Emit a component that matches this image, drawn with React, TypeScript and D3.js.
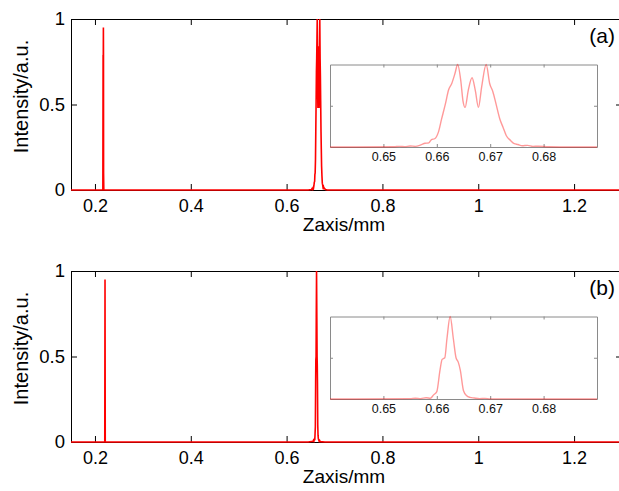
import { useRef, useEffect } from "react";
import * as d3 from "d3";

const zRange = [0.15, 1.3];
const xTicks = [0.2, 0.4, 0.6, 0.8, 1, 1.2];
const xTickLabels = ["0.2", "0.4", "0.6", "0.8", "1", "1.2"];
const yTicks = [0, 0.5, 1];
const yTickLabels = ["0", "0.5", "1"];
const insetRange = [0.64, 0.69];
const insetTicks = [0.65, 0.66, 0.67, 0.68];
const insetTickLabels = ["0.65", "0.66", "0.67", "0.68"];

// panel (a)
const spikeAZ = [0.2165, 0.217, 0.2172, 0.2174, 0.2176, 0.2178, 0.218, 0.2185];
const spikeAI = [0, 0.79, 0.1, 0.79, 0.95, 0.79, 0.1, 0];
const peakAZ = [0.645, 0.652, 0.653, 0.654, 0.655, 0.656, 0.657, 0.6578, 0.6585, 0.659, 0.6596, 0.6603, 0.6609, 0.6616, 0.6622, 0.6628, 0.6634, 0.6639, 0.6645, 0.6649, 0.6653, 0.6659, 0.6666, 0.6672, 0.6678, 0.6684, 0.66925, 0.6699, 0.6705, 0.6711, 0.6718, 0.6724, 0.673, 0.6738, 0.6745, 0.6752, 0.676, 0.677, 0.678, 0.679, 0.681, 0.685];
const peakAI = [0, 0.003, 0.008, 0.004, 0.012, 0.008, 0.025, 0.045, 0.05, 0.09, 0.1, 0.18, 0.34, 0.52, 0.69, 0.77, 0.89, 1.0, 0.8, 0.56, 0.48, 0.69, 0.84, 0.69, 0.48, 0.73, 1.0, 0.77, 0.67, 0.52, 0.34, 0.24, 0.14, 0.08, 0.04, 0.03, 0.015, 0.02, 0.008, 0.01, 0.003, 0];

// panel (b)
const spikeBZ = [0.2205, 0.221, 0.2215];
const spikeBI = [0, 0.95, 0];
const peakBZ = [0.645, 0.655, 0.656, 0.657, 0.658, 0.6588, 0.6594, 0.66, 0.6606, 0.661, 0.6615, 0.6619, 0.6625, 0.6631, 0.6636, 0.664, 0.6644, 0.665, 0.6656, 0.6662, 0.667, 0.668, 0.669, 0.67, 0.68];
const peakBI = [0, 0.004, 0.01, 0.005, 0.015, 0.01, 0.05, 0.09, 0.35, 0.48, 0.5, 0.73, 1.0, 0.73, 0.5, 0.45, 0.35, 0.1, 0.04, 0.02, 0.012, 0.004, 0.008, 0.002, 0];

const panelTags = ["(a)", "(b)"];
const xLabel = "Zaxis/mm";
const yLabel = "Intensity/a.u.";

const font = "'Liberation Sans', Arial, Helvetica, sans-serif";

function Panel({ top, spikeZ, spikeI, peakZ, peakI, tag }) {
  const left = 71, right = 622, h = 171;
  const bottom = top + h;
  const x = d3.scaleLinear(zRange, [left, right]);
  const y = d3.scaleLinear([0, 1], [bottom, top]);
  const iTop = top + 45.5, iBottom = top + 128, iLeft = 330, iRight = 597;
  const ix = d3.scaleLinear(insetRange, [iLeft, iRight]);
  const iy = d3.scaleLinear([0, 1], [iBottom, iTop]);

  const spike = spikeZ.map((z, i) => [z, spikeI[i]]);
  const peak = peakZ.map((z, i) => [z, peakI[i]]);
  const series = [[zRange[0], 0], ...spike, ...peak, [zRange[1], 0]];

  const line = d3.line().x(d => x(d[0])).y(d => y(d[1]));
  const iline = d3.line().x(d => ix(d[0])).y(d => iy(d[1])).curve(d3.curveMonotoneX);
  const insetSeries = [[insetRange[0], 0], ...peak.filter(d => d[0] > insetRange[0] && d[0] < insetRange[1]), [insetRange[1], 0]];

  const gb = useRef(), gt = useRef(), gl = useRef(), gr = useRef();
  const ib = useRef(), it = useRef(), il = useRef(), ir = useRef();

  useEffect(() => {
    const style = (g, size) => g.attr("font-family", font).attr("font-size", size);
    d3.select(gb.current)
      .call(d3.axisBottom(x).tickValues(xTicks).tickFormat((d, i) => xTickLabels[i]).tickSize(-6).tickSizeOuter(0).tickPadding(9.5))
      .call(g => style(g, 18));
    d3.select(gt.current)
      .call(d3.axisTop(x).tickValues(xTicks).tickFormat(() => "").tickSize(-6).tickSizeOuter(0));
    d3.select(gl.current)
      .call(d3.axisLeft(y).tickValues(yTicks).tickFormat((d, i) => yTickLabels[i]).tickSize(-6).tickSizeOuter(0).tickPadding(6))
      .call(g => style(g, 18.5));
    d3.select(gr.current)
      .call(d3.axisRight(y).tickValues(yTicks).tickFormat(() => "").tickSize(-6).tickSizeOuter(0));

    d3.select(ib.current)
      .call(d3.axisBottom(ix).tickValues(insetTicks).tickFormat((d, i) => insetTickLabels[i]).tickSize(-3).tickSizeOuter(0).tickPadding(5))
      .call(g => style(g, 12.5))
      .call(g => g.selectAll("text").attr("fill", "#111"));
    d3.select(it.current)
      .call(d3.axisTop(ix).tickValues(insetTicks).tickFormat(() => "").tickSize(-3).tickSizeOuter(0));
    d3.select(il.current)
      .call(d3.axisLeft(iy).tickValues([0.5]).tickFormat(() => "").tickSize(-3).tickSizeOuter(0));
    d3.select(ir.current)
      .call(d3.axisRight(iy).tickValues([0.5]).tickFormat(() => "").tickSize(-3).tickSizeOuter(0));
  }, []);

  return (
    <g>
      <g ref={gt} transform={`translate(0,${top})`} />
      <g ref={gr} transform={`translate(${right},0)`} />
      <g ref={gl} transform={`translate(${left},0)`} />
      <g ref={gb} transform={`translate(0,${bottom})`} />
      <path d={line(series)} fill="none" stroke="#ff0000" strokeWidth={1.6} />

      <rect x={iLeft} y={iTop} width={iRight - iLeft} height={iBottom - iTop} fill="#fff" />
      <g color="#8a8a8a">
        <g ref={it} transform={`translate(0,${iTop})`} />
        <g ref={ir} transform={`translate(${iRight},0)`} />
        <g ref={il} transform={`translate(${iLeft},0)`} />
        <g ref={ib} transform={`translate(0,${iBottom})`} />
      </g>
      <path d={iline(insetSeries)} fill="none" stroke="#ff0000" strokeOpacity={0.4} strokeWidth={1.4} />

      <text x={615} y={top + 24} textAnchor="end" fontFamily={font} fontSize={21}>{tag}</text>
      <text x={344} y={bottom + 40.5} textAnchor="middle" fontFamily={font} fontSize={19}>{xLabel}</text>
      <text transform={`translate(28,${top + h / 2 - 8}) rotate(-90)`} textAnchor="middle" fontFamily={font} fontSize={20}>{yLabel}</text>
    </g>
  );
}

export default function App() {
  return (
    <svg width={619} height={491} style={{ position: "absolute", left: 0, top: 0, background: "#fff" }}>
      <Panel top={19} spikeZ={spikeAZ} spikeI={spikeAI} peakZ={peakAZ} peakI={peakAI} tag={panelTags[0]} />
      <Panel top={271} spikeZ={spikeBZ} spikeI={spikeBI} peakZ={peakBZ} peakI={peakBI} tag={panelTags[1]} />
    </svg>
  );
}
